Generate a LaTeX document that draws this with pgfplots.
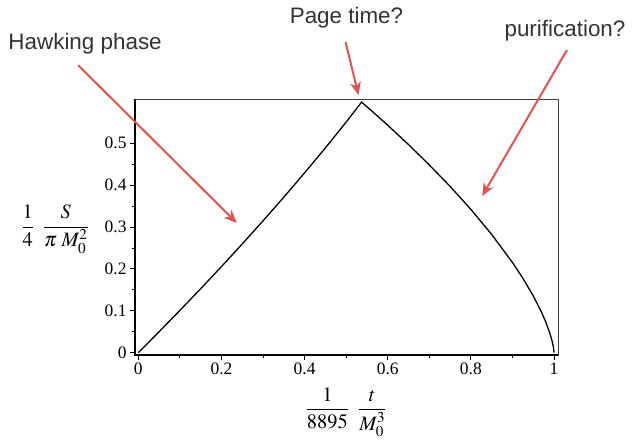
\documentclass[border=0pt]{standalone}
\usepackage{amsmath}
\usepackage{mathptmx}
\usepackage{fontspec}
\setmainfont{Liberation Serif}
\newfontfamily\annfont{Liberation Sans}
\usepackage{pgfplots}
\pgfplotsset{compat=1.18}
\usetikzlibrary{arrows.meta}
\definecolor{annred}{HTML}{E9524C}
\begin{document}
\begin{tikzpicture}[x=1bp,y=1bp]
\begin{axis}[
  scale only axis, width=423bp, height=256bp,
  xmin=-0.008, xmax=1.0096, ymin=-0.0055, ymax=0.6055,
  clip=false,
  axis line style={line width=0.8bp, black!75},
  tick align=outside, xtick pos=left, ytick pos=left,
  major tick length=5bp, minor tick length=3bp,
  tick style={line width=0.8bp, black},
  xtick={0,0.2,0.4,0.6,0.8,1}, xticklabels={0,0.2,0.4,0.6,0.8,1},
  ytick={0,0.1,0.2,0.3,0.4,0.5}, yticklabels={0,0.1,0.2,0.3,0.4,0.5},
  minor tick num=1,
  ticklabel style={font=\fontsize{17.5}{19}\selectfont},
  xticklabel style={yshift=1bp},
  /pgf/number format/assume math mode=true,
  xlabel={$\dfrac{1}{8895}\;\;\dfrac{t}{M_0^3}$},
  xlabel style={font=\fontsize{20.5}{22}\selectfont, at={(axis description cs:0.499,-0.223)}, anchor=center},
  ylabel={$\dfrac{1}{4}\;\;\dfrac{S}{\pi\;M_0^2}$},
  ylabel style={rotate=-90, font=\fontsize{20.5}{22}\selectfont, at={(axis description cs:-0.189,0.492)}, anchor=center},
]
\draw[line width=1.4bp, black] (rel axis cs:0,1) -- (rel axis cs:0,0) -- (rel axis cs:1,0);
\addplot[line width=1.3bp, black] coordinates {
(0,0) (0.05,0.0500) (0.1,0.1009) (0.15,0.1527) (0.2,0.2055) (0.25,0.2595)
(0.3,0.3147) (0.35,0.3712) (0.4,0.4292) (0.45,0.4888) (0.5,0.5503) (0.537,0.598)
(0.55,0.5872) (0.6,0.5429) (0.65,0.4967) (0.7,0.4481) (0.75,0.3969) (0.8,0.3420)
(0.85,0.2823) (0.9,0.2154) (0.925,0.1778) (0.95,0.1357) (0.97,0.0966) (0.98,0.0737)
(0.99,0.0464) (0.995,0.0292) (0.998,0.0159) (0.9995,0.0063) (1,0)
};
\draw[annred, line width=2bp, -{Stealth[length=13bp,width=11bp]}] (axis cs:-0.1447,0.6862) -- (axis cs:0.2369,0.3096);
\draw[annred, line width=2bp, -{Stealth[length=13bp,width=11bp]}] (axis cs:0.4985,0.7415) -- (axis cs:0.5296,0.6150);
\draw[annred, line width=2bp, -{Stealth[length=13bp,width=11bp]}] (axis cs:1.0312,0.7224) -- (axis cs:0.8272,0.3740);
\node[font=\annfont\fontsize{22.5}{25}\selectfont, text=black!80] at (axis cs:-0.128,0.7368) {Hawking phase};
\node[font=\annfont\fontsize{22.5}{25}\selectfont, text=black!80] at (axis cs:0.5008,0.7988) {Page time?};
\node[font=\annfont\fontsize{22.5}{25}\selectfont, text=black!80] at (axis cs:1.0264,0.7678) {purification?};
\end{axis}
\path[use as bounding box] (current axis.south west) ++(-135bp,-81bp) rectangle ++(632bp,436bp);
\end{tikzpicture}
\end{document}
